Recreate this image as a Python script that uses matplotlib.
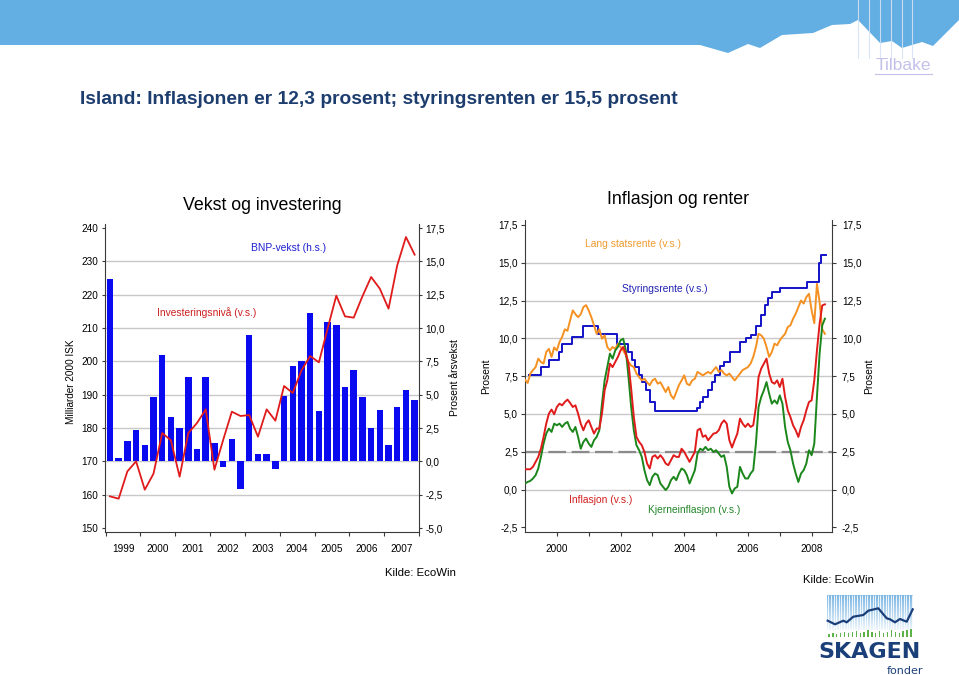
import numpy as np
import matplotlib
matplotlib.use('Agg')
import matplotlib.pyplot as plt
from matplotlib import font_manager
from matplotlib.ticker import FuncFormatter
from matplotlib.colors import LinearSegmentedColormap
from matplotlib.lines import Line2D

plt.rcParams['font.family'] = ['Liberation Sans', 'DejaVu Sans']

# --- Vekst og investering: kvartalstall 1999K1 - 2007K4 ---
aar_venstre = ['1999', '2000', '2001', '2002', '2003', '2004', '2005', '2006', '2007']
bnp_vekst = [13.7, 0.25, 1.5, 2.35, 1.2, 4.8, 8.0, 3.3, 2.5, 6.3, 0.9, 6.3,
             1.35, -0.45, 1.7, -2.05, 9.5, 0.58, 0.58, -0.55, 4.9, 7.15, 7.5, 11.15,
             3.8, 10.45, 10.2, 5.55, 6.85, 4.85, 2.5, 3.85, 1.25, 4.1, 5.35, 4.6]
investering = [159.5, 158.8, 167.0, 170.0, 161.5, 166.3, 178.5, 176.3, 165.4, 178.5, 181.5, 185.6,
               167.5, 176.4, 184.9, 183.6, 183.9, 177.4, 185.6, 182.2, 192.6, 190.5, 197.3, 201.6,
               199.7, 209.8, 219.7, 213.5, 213.1, 219.5, 225.3, 221.8, 215.8, 228.8, 237.3, 232.0]

# --- Inflasjon og renter: maanedstall fra jan 1999 ---
aar_hoyre = [2000, 2001, 2002, 2003, 2004, 2005, 2006, 2007, 2008]
lang_rente = [7.27, 7.05, 7.67, 7.9, 8.1, 8.66, 8.44, 8.33, 9.1, 9.3, 8.77, 9.4,
              9.2, 9.76, 10.1, 10.6, 10.5, 11.2, 11.85, 11.6, 11.4, 11.6, 12.07, 12.2,
              11.85, 11.4, 10.86, 10.3, 10.6, 9.98, 10.2, 9.43, 9.2, 9.43, 9.3, 9.65,
              9.43, 9.2, 8.88, 8.44, 8.2, 8.1, 7.67, 7.44, 7.22, 7.33, 7.1, 6.9,
              7.22, 7.33, 7.0, 7.1, 6.78, 6.45, 6.78, 6.23, 6.0, 6.45, 6.9, 7.22,
              7.55, 7.0, 6.9, 7.22, 7.33, 7.78, 7.67, 7.55, 7.67, 7.78, 7.67, 7.9,
              8.1, 7.78, 7.9, 7.67, 7.55, 7.67, 7.44, 7.22, 7.44, 7.67, 7.9, 8.0,
              8.1, 8.33, 8.77, 9.43, 10.3, 10.2, 9.98, 9.43, 8.77, 9.1, 9.65, 9.54,
              9.87, 10.1, 10.3, 10.75, 10.86, 11.3, 11.63, 12.07, 12.5, 12.3, 12.73, 12.95,
              11.85, 11.0, 13.6, 12.4, 10.6, 10.3]
inflasjon = [1.34, 1.34, 1.34, 1.5, 1.83, 2.16, 2.7, 3.48, 4.36, 5.02, 5.29, 4.98,
             5.46, 5.68, 5.57, 5.79, 5.95, 5.73, 5.46, 5.57, 5.02, 4.36, 3.92, 4.36,
             4.58, 4.14, 3.7, 4.03, 4.03, 5.02, 6.56, 7.22, 8.33, 8.1, 8.44, 8.77,
             9.2, 9.43, 8.99, 8.33, 6.67, 4.8, 3.48, 3.15, 2.93, 2.49, 1.72, 1.39,
             2.16, 2.27, 2.05, 2.27, 2.05, 1.72, 1.61, 1.94, 2.27, 2.16, 2.16, 2.7,
             2.49, 2.16, 1.83, 2.16, 2.49, 3.92, 4.03, 3.48, 3.59, 3.26, 3.48, 3.7,
             3.74, 3.92, 4.36, 4.58, 4.36, 3.26, 2.78, 3.26, 3.7, 4.69, 4.36, 4.14,
             4.36, 4.14, 4.25, 5.46, 7.44, 8.0, 8.33, 8.66, 7.67, 7.11, 7.0, 7.22,
             6.78, 7.33, 6.12, 5.24, 4.8, 4.25, 3.92, 3.48, 4.14, 4.58, 5.24, 5.79,
             5.9, 7.22, 9.2, 10.97, 12.18, 12.25]
kjerneinflasjon = [0.4, 0.5, 0.57, 0.73, 0.95, 1.39, 2.16, 3.04, 3.7, 4.03, 3.81, 4.36,
                   4.25, 4.36, 4.14, 4.36, 4.47, 4.03, 3.81, 4.14, 3.48, 2.7, 3.15, 3.37,
                   3.04, 2.82, 3.26, 3.48, 3.92, 5.68, 7.22, 8.1, 8.99, 8.66, 9.2, 9.43,
                   9.87, 9.98, 9.2, 7.44, 5.46, 3.92, 2.93, 2.6, 2.16, 1.28, 0.62, 0.29,
                   0.84, 1.06, 0.95, 0.4, 0.18, -0.04, 0.18, 0.62, 0.84, 0.62, 1.06, 1.39,
                   1.28, 0.95, 0.4, 0.84, 1.28, 2.38, 2.7, 2.6, 2.82, 2.6, 2.7, 2.49,
                   2.6, 2.38, 2.16, 2.27, 1.5, 0.18, -0.26, 0.07, 0.18, 1.5, 1.06, 0.73,
                   0.73, 1.06, 1.28, 3.04, 5.46, 6.12, 6.56, 7.11, 6.34, 5.68, 5.9, 5.68,
                   6.23, 5.68, 4.14, 3.15, 2.6, 1.72, 1.06, 0.5, 1.06, 1.28, 1.72, 2.6,
                   2.27, 3.04, 6.12, 8.99, 10.86, 11.3]
# styringsrente: endringsdatoer (desimalaar) og nytt nivaa
styr_datoer = [1999.12, 1999.50, 1999.75, 2000.08, 2000.15, 2000.47, 2000.83, 2001.28,
               2001.88, 2002.22, 2002.35, 2002.45, 2002.58, 2002.68, 2002.80, 2002.92,
               2003.08, 2004.40, 2004.50, 2004.60, 2004.76, 2004.88, 2004.97, 2005.12,
               2005.25, 2005.44, 2005.75, 2005.94, 2006.10, 2006.25, 2006.41, 2006.54,
               2006.64, 2006.74, 2007.01, 2007.85, 2008.23, 2008.28]
styr_niva = [7.6, 8.1, 8.6, 9.1, 9.6, 10.1, 10.8, 10.3,
             9.6, 9.1, 8.6, 8.1, 7.6, 7.1, 6.6, 5.8,
             5.2, 5.4, 5.8, 6.1, 6.6, 7.1, 7.6, 8.2,
             8.45, 9.1, 9.75, 10.0, 10.2, 10.85, 11.55, 12.2,
             12.7, 13.1, 13.3, 13.75, 15.0, 15.5]
styr_slutt = 2008.44

# --- topp-banner og logo ---
banner_x = [0, 700, 728, 748, 760, 782, 813, 832, 850, 858, 880, 892, 902, 922, 933, 959]
banner_y = [45, 45, 53, 44, 48, 35, 33, 25, 24, 20, 43, 41, 48, 42, 46, 20]
banner_strek = [858, 869, 880, 891, 902, 912]
logo_x = [827.7, 835, 843.3, 846.7, 853.3, 863.3, 868.3, 878.3, 886.7, 890, 895, 900, 906.7, 912.7]
logo_y = [620.7, 624.3, 620.7, 622.3, 616.7, 615, 610.7, 608.3, 618.3, 619.3, 622.3, 619, 621.7, 609.3]
logo_stolper = [3, 4, 3, 4, 5, 4, 5, 6, 4, 5, 7, 5, 4, 6, 4, 5, 7, 5, 4, 6, 7, 8]

W, H = 959, 675
fig = plt.figure(figsize=(W / 100, H / 100), dpi=100)


def fx(px):
    return px / W


def fy(py):
    return 1 - py / H


def komma(v, pos=None):
    return f"{v:.1f}".replace('.', ',')


spine_col = '#3a3a3a'
grid_col = '#c8c8c8'
tick_fs = 7.2

# ---------------- header ----------------
axH = fig.add_axes([0, fy(62), 1, 62 / H])
axH.set_xlim(0, W)
axH.set_ylim(62, 0)
axH.axis('off')
axH.fill([0] + banner_x + [W], [0] + banner_y + [0], color='#63aee2', lw=0)
for x in banner_strek:
    axH.plot([x, x], [0, 58], color='#d6e2f4', lw=0.8, alpha=0.9)

fig.text(fx(903), fy(65), 'Tilbake', fontsize=12.5, color='#c3c1ea',
         ha='center', va='center')
fig.add_artist(Line2D([fx(875), fx(932)], [fy(74), fy(74)], color='#c3c1ea', lw=0.8))

tittel = 'Island: Inflasjonen er 12,3 prosent; styringsrenten er 15,5 prosent'
names = {f.name for f in font_manager.fontManager.ttflist}
if 'Liberation Sans Narrow' in names:
    fig.text(fx(80), fy(100), tittel, fontsize=16.5, fontweight='bold', color='#1c3d6e',
             va='center', family=['Liberation Sans Narrow', 'Liberation Sans'])
else:
    fig.text(fx(80), fy(100), tittel, fontsize=13.9, fontweight='bold', color='#1c3d6e',
             va='center')

# ---------------- venstre diagram ----------------
fig.text(fx(262), fy(205), 'Vekst og investering', fontsize=12.8, ha='center', va='center')

axL = fig.add_axes([fx(105), fy(531.7), (419 - 105) / W, (531.7 - 224) / H])
axL2 = axL.twinx()

idx = np.arange(len(bnp_vekst))
for v in np.arange(-2.5, 15.1, 2.5):
    axL.axhline(v, color=grid_col, lw=1, zorder=0)
axL.bar(idx, bnp_vekst, width=0.74, color='#0a0af0', zorder=2)
axL.set_xlim(-0.57, 35.46)
axL.set_ylim(-5.275, 17.8)
axL.yaxis.tick_right()
axL.set_yticks(np.arange(-5, 17.6, 2.5))
axL.yaxis.set_major_formatter(FuncFormatter(komma))
axL.tick_params(axis='y', direction='out', length=2.5, pad=2, labelsize=tick_fs, color=spine_col)

axL.set_xticks(np.arange(-0.5, 36, 4))
axL.set_xticklabels([])
axL.set_xticks(np.arange(1.5, 36, 4), minor=True)
axL.set_xticklabels(aar_venstre, minor=True)
axL.tick_params(axis='x', which='major', direction='out', length=3, color=spine_col)
axL.tick_params(axis='x', which='minor', length=0, pad=9.0, labelsize=tick_fs)

axL2.plot(idx, investering, color='#e01b1b', lw=1.3)
axL2.set_ylim(148.9, 241.2)
axL2.yaxis.tick_left()
axL2.set_yticks(np.arange(150, 241, 10))
axL2.tick_params(axis='y', direction='out', length=2.5, pad=2.5, labelsize=tick_fs, color=spine_col)

for a in (axL, axL2):
    a.spines['top'].set_visible(False)
for s in axL2.spines.values():
    s.set_visible(False)
for s in ('left', 'right', 'bottom'):
    axL.spines[s].set_color(spine_col)
    axL.spines[s].set_linewidth(0.8)

fig.text(fx(289), fy(248), 'BNP-vekst (h.s.)', fontsize=7.4, color='#1e1ed2', ha='center', va='center')
fig.text(fx(207), fy(313), 'Investeringsnivå (v.s.)', fontsize=7.4, color='#cc2020', ha='center', va='center')
fig.text(fx(71.5), fy(381.5), 'Milliarder 2000 ISK', fontsize=7.2, rotation=90, ha='center', va='center')
fig.text(fx(455), fy(377.5), 'Prosent årsvekst', fontsize=7.4, rotation=90, ha='center', va='center')
fig.text(fx(385), fy(573), 'Kilde: EcoWin', fontsize=8.2, ha='left', va='center')

# ---------------- hoyre diagram ----------------
fig.text(fx(678), fy(200), 'Inflasjon og renter', fontsize=12.8, ha='center', va='center')

axR = fig.add_axes([fx(525), fy(531.7), (831.7 - 525) / W, (531.7 - 220) / H])
axR2 = axR.twinx()

mnd = 1999 + np.arange(len(lang_rente)) / 12
for v in np.arange(0, 15.1, 2.5):
    axR.axhline(v, color=grid_col, lw=1, zorder=0)
axR.plot([1999, 2008.63], [2.5, 2.5], color='#8a8a8a', lw=1.6, dashes=(8, 2.5), zorder=1)

axR.step(styr_datoer + [styr_slutt], styr_niva + [styr_niva[-1]], where='post',
         color='#1212c8', lw=1.4, zorder=3)
axR.plot(mnd, lang_rente, color='#f59122', lw=1.4, zorder=4)
axR.plot(1999 + np.arange(len(kjerneinflasjon)) / 12, kjerneinflasjon, color='#1b861b', lw=1.4, zorder=5)
axR.plot(1999 + np.arange(len(inflasjon)) / 12, inflasjon, color='#e01b1b', lw=1.4, zorder=6)

axR.set_xlim(1999.0, 2008.63)
axR.set_ylim(-2.79, 17.83)
axR.set_xticks(aar_hoyre)
axR.set_xticklabels([str(a) if a % 2 == 0 else '' for a in aar_hoyre])
axR.tick_params(axis='x', direction='out', length=3.0, pad=6.0, labelsize=tick_fs, color=spine_col)
axR.set_yticks(np.arange(-2.5, 17.6, 2.5))
axR.yaxis.set_major_formatter(FuncFormatter(komma))
axR.tick_params(axis='y', direction='out', length=3.0, pad=2, labelsize=tick_fs, color=spine_col)

axR2.set_ylim(-2.79, 17.83)
axR2.set_yticks(np.arange(-2.5, 17.6, 2.5))
axR2.yaxis.set_major_formatter(FuncFormatter(komma))
axR2.tick_params(axis='y', direction='out', length=3.0, pad=4.3, labelsize=tick_fs, color=spine_col)
for s in axR2.spines.values():
    s.set_visible(False)
axR.spines['top'].set_visible(False)
for s in ('left', 'right', 'bottom'):
    axR.spines[s].set_color(spine_col)
    axR.spines[s].set_linewidth(0.8)

fig.text(fx(633), fy(244), 'Lang statsrente (v.s.)', fontsize=7.4, color='#ef9a30', ha='center', va='center')
fig.text(fx(665), fy(289), 'Styringsrente (v.s.)', fontsize=7.4, color='#2424b4', ha='center', va='center')
fig.text(fx(601), fy(500), 'Inflasjon (v.s.)', fontsize=7.4, color='#d41f1f', ha='center', va='center')
fig.text(fx(694), fy(510), 'Kjerneinflasjon (v.s.)', fontsize=7.4, color='#23862a', ha='center', va='center')
fig.text(fx(486.5), fy(376.5), 'Prosent', fontsize=7.4, rotation=90, ha='center', va='center')
fig.text(fx(869), fy(376.5), 'Prosent', fontsize=7.4, rotation=90, ha='center', va='center')
fig.text(fx(803), fy(580), 'Kilde: EcoWin', fontsize=8.2, ha='left', va='center')

# ---------------- logo ----------------
axLogo = fig.add_axes([fx(826), fy(641), 88 / W, 46 / H])
axLogo.set_xlim(826, 914)
axLogo.set_ylim(641, 595)
axLogo.axis('off')
grad = np.linspace(0, 1, 60)[:, None]
cmap = LinearSegmentedColormap.from_list('logo', ['#7db7e4', '#eef6fc'])
axLogo.imshow(grad, extent=(827, 913, 630, 595), cmap=cmap, aspect='auto', origin='upper', zorder=0)
axLogo.vlines(np.arange(828.3, 913, 2.6), 595, 630, color='white', lw=0.6, zorder=1)
stolpe_x = 829 + np.arange(len(logo_stolper)) * 3.9
axLogo.bar(stolpe_x, [-h for h in logo_stolper], bottom=637, width=1.4, color='#5db34a', zorder=2)
axLogo.plot(logo_x, logo_y, color='#1b3f7a', lw=1.6, zorder=3)

fig.text(fx(870), fy(652), 'SKAGEN', fontsize=16, fontweight='bold', color='#1b4079',
         ha='center', va='center', family=['DejaVu Sans'])
fig.text(fx(905), fy(671.5), 'fonder', fontsize=8, color='#1b4079', ha='center', va='center',
         family=['DejaVu Sans'])

fig.savefig('out.png', dpi=100)
